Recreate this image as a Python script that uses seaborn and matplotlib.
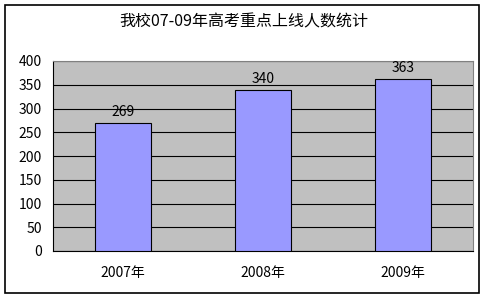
import matplotlib
matplotlib.use("Agg")
import matplotlib.pyplot as plt
import seaborn as sns
import pandas as pd
from matplotlib.patches import Rectangle
from matplotlib.ticker import FixedLocator

categories = ["2007年", "2008年", "2009年"]
values = [269, 340, 363]
title = "我校07-09年高考重点上线人数统计"

sns.set_theme(style="white")
plt.rcParams['font.family'] = ['Noto Sans CJK SC', 'DejaVu Sans']

df = pd.DataFrame({"year": categories, "count": values})

fig = plt.figure(figsize=(4.88, 3.0), dpi=100)
ax = fig.add_axes([53/488, 1 - 251/300, (473-53)/488, (251-61)/300])
ax.set_facecolor("#C0C0C0")
sns.barplot(data=df, x="year", y="count", ax=ax, color="#9999FF",
            saturation=1, width=0.4, edgecolor="black", linewidth=0.8, zorder=3)
ax.set_ylim(0, 400)
ax.set_xlim(-0.5, 2.5)
ax.set_yticks(range(0, 401, 50))
ax.yaxis.grid(True, color="black", linewidth=0.8, zorder=0)
ax.set_axisbelow(True)
for name, s in ax.spines.items():
    s.set_color("black" if name in ("left", "bottom") else "#808080")
    s.set_linewidth(0.8)
ax.set_xlabel("")
ax.set_ylabel("")
ax.tick_params(axis="y", length=0, labelsize=10, pad=8, colors="black")
ax.tick_params(axis="x", length=0, labelsize=10, pad=11, colors="black")
ax.xaxis.set_minor_locator(FixedLocator([0.5, 1.5]))
ax.tick_params(axis="x", which="minor", direction="in", length=3, color="black", width=0.8)
for i, v in enumerate(values):
    ax.annotate(str(v), (i, v), xytext=(0, 5), textcoords="offset points",
                ha="center", va="baseline", fontsize=10, color="black")

fig.text(0.5, 1 - 22/300, title, ha="center", va="center", fontsize=11.5, color="black")
fig.patches.append(Rectangle((5/488, 1 - 293/300), (479-5)/488, (293-5)/300,
                             transform=fig.transFigure, fill=False,
                             edgecolor="black", linewidth=1.2))
fig.savefig("out.png", dpi=100, facecolor="white")
